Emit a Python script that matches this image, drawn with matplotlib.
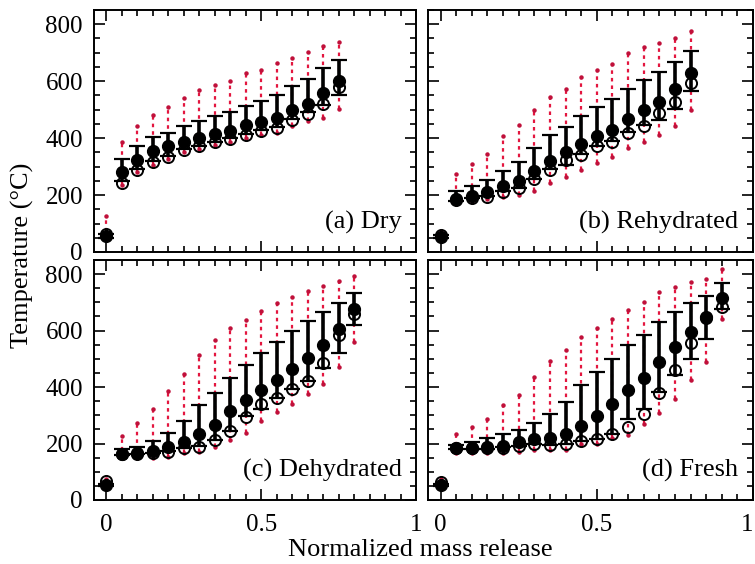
import numpy as np
import matplotlib
matplotlib.use("Agg")
import matplotlib.pyplot as plt
from matplotlib.ticker import MultipleLocator, FixedLocator

plt.rcParams['font.family'] = ['Liberation Serif', 'DejaVu Serif']
plt.rcParams['mathtext.fontset'] = 'stix'

# ---- data: normalized mass release vs. temperature (deg C) ----
# Filled circles with solid black bars, open circles with dashed red bars.
x_dry = [0.0, 0.05, 0.10, 0.15, 0.20, 0.25, 0.30, 0.35, 0.40, 0.45, 0.50, 0.55, 0.60, 0.65, 0.70, 0.75]
fill_dry = [55, 280, 324, 353, 371, 388, 402, 414, 426, 445, 455, 471, 498, 521, 559, 602]
fill_lo_dry = [50, 250, 292, 320, 338, 362, 374, 388, 400, 415, 428, 440, 466, 490, 518, 551]
fill_hi_dry = [62, 327, 374, 404, 418, 441, 459, 477, 492, 514, 530, 551, 582, 609, 645, 673]
open_dry = [62, 244, 288, 315, 335, 359, 371, 386, 397, 412, 424, 435, 462, 486, 521, 580]
open_lo_dry = [45, 236, 280, 306, 326, 350, 362, 376, 386, 400, 410, 418, 441, 460, 471, 504]
open_hi_dry = [125, 388, 444, 482, 508, 541, 568, 585, 602, 629, 641, 665, 682, 702, 724, 738]

x_reh = [0.0, 0.05, 0.10, 0.15, 0.20, 0.25, 0.30, 0.35, 0.40, 0.45, 0.50, 0.55, 0.60, 0.65, 0.70, 0.75, 0.80]
fill_reh = [53, 186, 198, 212, 232, 250, 285, 321, 350, 380, 406, 430, 467, 498, 526, 571, 629]
fill_lo_reh = [50, 180, 190, 196, 214, 226, 258, 290, 304, 343, 374, 391, 420, 446, 462, 502, 565]
fill_hi_reh = [58, 216, 233, 253, 286, 315, 367, 410, 439, 479, 510, 538, 573, 604, 632, 667, 706]
open_reh = [58, 183, 188, 194, 212, 224, 256, 288, 324, 341, 371, 388, 418, 444, 488, 526, 594]
open_lo_reh = [50, 168, 177, 185, 194, 200, 216, 241, 265, 288, 312, 335, 365, 388, 412, 441, 500]
open_hi_reh = [75, 274, 308, 345, 406, 445, 500, 545, 573, 614, 638, 661, 698, 720, 735, 753, 776]

x_deh = [0.0, 0.05, 0.10, 0.15, 0.20, 0.25, 0.30, 0.35, 0.40, 0.45, 0.50, 0.55, 0.60, 0.65, 0.70, 0.75, 0.80]
fill_deh = [53, 162, 168, 174, 186, 204, 233, 267, 315, 353, 391, 426, 465, 504, 549, 604, 677]
fill_lo_deh = [50, 160, 162, 166, 172, 184, 190, 214, 246, 296, 321, 362, 394, 423, 467, 521, 620]
fill_hi_deh = [58, 179, 186, 208, 238, 279, 338, 380, 432, 479, 521, 559, 600, 635, 667, 698, 732]
open_deh = [67, 162, 162, 165, 171, 183, 188, 212, 244, 294, 341, 361, 392, 421, 486, 585, 659]
open_lo_deh = [50, 150, 147, 147, 153, 165, 171, 188, 212, 239, 279, 312, 341, 376, 412, 471, 561]
open_hi_deh = [75, 227, 273, 324, 386, 447, 515, 568, 609, 639, 671, 696, 720, 741, 759, 776, 792]

x_fre = [0.0, 0.05, 0.10, 0.15, 0.20, 0.25, 0.30, 0.35, 0.40, 0.45, 0.50, 0.55, 0.60, 0.65, 0.70, 0.75, 0.80, 0.85, 0.90]
fill_fre = [53, 183, 183, 186, 192, 206, 215, 221, 233, 261, 298, 339, 388, 433, 488, 541, 596, 647, 715]
fill_lo_fre = [50, 180, 180, 182, 186, 193, 198, 196, 199, 210, 217, 234, 288, 324, 382, 441, 500, 571, 676]
fill_hi_fre = [58, 194, 204, 218, 232, 247, 274, 306, 347, 406, 455, 500, 549, 585, 632, 665, 698, 724, 768]
open_fre = [65, 183, 183, 183, 185, 192, 197, 194, 197, 208, 215, 232, 257, 306, 380, 462, 557, 644, 682]
open_lo_fre = [50, 165, 165, 167, 168, 170, 176, 176, 176, 197, 200, 218, 229, 268, 309, 359, 424, 488, 641]
open_hi_fre = [75, 235, 259, 288, 335, 373, 435, 491, 533, 576, 608, 641, 674, 700, 735, 753, 771, 782, 818]

x_ticks = [0, 0.5, 1]
x_tick_labels = ['0', '0.5', '1']

panels = [
    ("(a) Dry", x_dry, fill_dry, fill_lo_dry, fill_hi_dry, open_dry, open_lo_dry, open_hi_dry),
    ("(b) Rehydrated", x_reh, fill_reh, fill_lo_reh, fill_hi_reh, open_reh, open_lo_reh, open_hi_reh),
    ("(c) Dehydrated", x_deh, fill_deh, fill_lo_deh, fill_hi_deh, open_deh, open_lo_deh, open_hi_deh),
    ("(d) Fresh", x_fre, fill_fre, fill_lo_fre, fill_hi_fre, open_fre, open_lo_fre, open_hi_fre),
]

W, H = 755, 564
fig = plt.figure(figsize=(W / 100, H / 100), dpi=100)

# axes boxes in pixels: (left, top, right, bottom)
boxes = [(94, 10, 416, 252), (428, 10, 753, 252),
         (94, 260, 416, 500), (428, 260, 753, 500)]

RED = '#e3163f'
FS = 18

for i, (box, p) in enumerate(zip(boxes, panels)):
    l, t, r, b = box
    ax = fig.add_axes([l / W, (H - b) / H, (r - l) / W, (b - t) / H])
    label, x, f, flo, fhi, o, olo, ohi = p
    x = np.asarray(x)

    # dashed red range for the open symbols
    ax.vlines(x, olo, ohi, colors=RED, linestyles=(0, (1.6, 1.8)), lw=1.6, zorder=2)
    ax.plot(x, ohi, ls='none', marker='o', ms=2.2, color='#c0103a', zorder=2)
    ax.plot(x, olo, ls='none', marker='o', ms=2.2, color='#c0103a', zorder=2)

    # solid black range with caps for the filled symbols
    ax.errorbar(x, f, yerr=[np.asarray(f) - np.asarray(flo), np.asarray(fhi) - np.asarray(f)],
                fmt='none', ecolor='black', elinewidth=2.6, capsize=5.5, capthick=1.6, zorder=3)

    ax.plot(x, o, ls='none', marker='o', ms=8, mfc='none', mec='black', mew=1.4, zorder=4)
    ax.plot(x, f, ls='none', marker='o', ms=8.5, color='black', zorder=5)

    ax.set_xlim(-0.04, 1.0)
    ax.set_ylim(0, 850)
    ax.xaxis.set_major_locator(FixedLocator(x_ticks))
    ax.set_xticklabels(x_tick_labels)
    ax.xaxis.set_minor_locator(MultipleLocator(0.05))
    ax.yaxis.set_major_locator(MultipleLocator(200))
    ax.yaxis.set_minor_locator(MultipleLocator(50))
    ax.tick_params(which='both', direction='in', top=True, right=True,
                   labelsize=FS, width=1.2)
    ax.tick_params(axis='x', pad=10)
    ax.tick_params(axis='y', pad=8)
    ax.tick_params(which='major', length=8)
    ax.tick_params(which='minor', length=4)
    for s in ax.spines.values():
        s.set_linewidth(1.4)

    if i in (1, 3):
        ax.tick_params(labelleft=False)
    if i in (0, 1):
        ax.tick_params(labelbottom=False)
    if i == 3:
        # keep the last tick label inside the figure edge
        ax.get_xticklabels()[-1].set_horizontalalignment('right')

    ax.text(0.955, 0.075, label, transform=ax.transAxes, ha='right', va='bottom', fontsize=19)

fig.text(22 / W, 1 - 255 / H, 'Temperature (°C)', rotation=90, ha='center', va='center', fontsize=19)
fig.text(420 / W, 1 - 550 / H, 'Normalized mass release', ha='center', va='center', fontsize=19)

fig.savefig('out.png', dpi=100)
